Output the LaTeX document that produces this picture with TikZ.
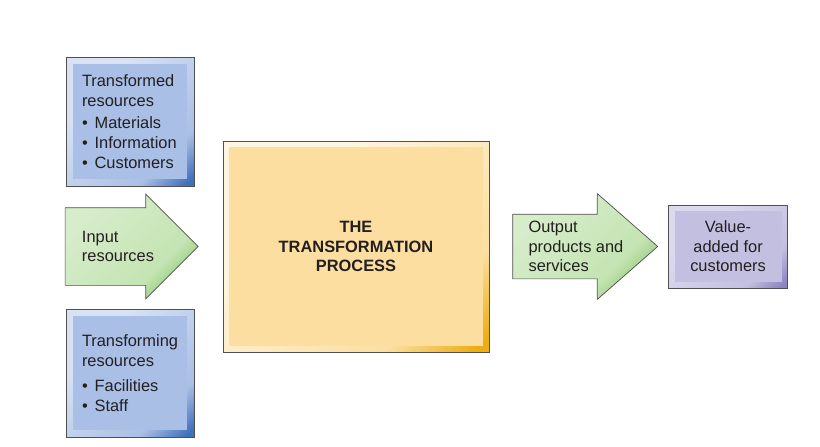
\documentclass[tikz,border=0pt]{standalone}
\usepackage{fontspec}
\setmainfont{Liberation Sans}
\usetikzlibrary{positioning,shapes.arrows}

\definecolor{edgegray}{HTML}{505050}
\definecolor{inktext}{HTML}{231F20}
\definecolor{bluelight}{HTML}{D8E2F3}
\definecolor{bluemid}{HTML}{A9BFE5}
\definecolor{bluedark}{HTML}{3F70BA}
\definecolor{yellowlight}{HTML}{FFF6E2}
\definecolor{yellowmid}{HTML}{FCDFA0}
\definecolor{yellowdark}{HTML}{EDAE12}
\definecolor{purplelight}{HTML}{DCD9EF}
\definecolor{purplemid}{HTML}{C3BFE0}
\definecolor{purpledark}{HTML}{8C84C2}
\definecolor{greenlight}{HTML}{D6ECCA}
\definecolor{greenmid}{HTML}{C4E4B2}
\definecolor{greendark}{HTML}{86C56C}

\pgfdeclareverticalshading{blueframe}{100bp}{color(0bp)=(bluedark); color(17bp)=(bluedark); color(30bp)=(bluemid); color(68bp)=(bluelight); color(100bp)=(bluelight)}
\pgfdeclareverticalshading{yellowframe}{100bp}{color(0bp)=(yellowdark); color(17bp)=(yellowdark); color(30bp)=(yellowmid); color(68bp)=(yellowlight); color(100bp)=(yellowlight)}
\pgfdeclareverticalshading{purpleframe}{100bp}{color(0bp)=(purpledark); color(17bp)=(purpledark); color(30bp)=(purplemid); color(68bp)=(purplelight); color(100bp)=(purplelight)}
\pgfdeclareverticalshading{greenframe}{100bp}{color(0bp)=(greendark); color(22bp)=(greendark); color(36bp)=(greenmid); color(72bp)=(greenlight); color(100bp)=(greenlight)}

\newcommand{\itm}[1]{\textbullet\hspace{0.42em}#1}

\begin{document}
\begin{tikzpicture}[
  x=1pt, y=1pt,
  font=\fontsize{16.4}{19.6}\selectfont, text=inktext,
  panel/.style={draw=edgegray, line width=0.7pt, shading=#1frame, shading angle=45, inner sep=0pt},
  inset/.style 2 args={path picture={\fill[#1] ([shift={(#2,-#2)}]path picture bounding box.north west)
    rectangle ([shift={(-#2,#2)}]path picture bounding box.south east);}},
  resbox/.style={panel=blue, inset={bluemid}{7pt}, minimum width=128pt, text width=96pt, align=left},
  flow/.style={draw=edgegray, line width=0.7pt, shading=greenframe, shading angle=45,
    shape=single arrow, single arrow head indent=0pt, inner xsep=0pt},
  lbl/.style={inner sep=0pt, align=left, anchor=west}
]
  \useasboundingbox (0,0) rectangle (820,-447);

  % central process and the main row
  \node[panel=yellow, inset={yellowmid}{6pt}, minimum width=266pt, minimum height=211pt,
    align=center, font=\fontsize{16.4}{19.8}\selectfont\bfseries] (proc) at (356,-246.5)
    {THE\\TRANSFORMATION\\PROCESS};
  \node[flow, minimum height=133pt, inner ysep=38.5pt, single arrow head extend=13.5pt,
    single arrow tip angle=90, left=24pt of proc] (inarr) {};
  \node[flow, minimum height=145pt, inner ysep=32pt, single arrow head extend=20.5pt,
    single arrow tip angle=82.4, right=23pt of proc] (outarr) {};
  \node[panel=purple, inset={purplemid}{6pt}, minimum width=119pt, minimum height=83pt,
    align=center, right=10pt of outarr] (value) {Value-\\added for\\customers};

  \node[lbl] (inlbl) at ([xshift=17pt]inarr.tail) {Input\\resources};
  \node[lbl] (outlbl) at ([xshift=16pt]outarr.tail) {Output\\products and\\services};

  % resources feeding in
  \node[resbox, minimum height=129pt] (trd) at (130,-121.5)
    {Transformed\\resources\\[3pt]\itm{Materials}\\\itm{Information}\\\itm{Customers}};
  \node[resbox, minimum height=128pt] (trg) at (130,-373)
    {Transforming\\resources\\[6pt]\itm{Facilities}\\\itm{Staff}};
\end{tikzpicture}
\end{document}
